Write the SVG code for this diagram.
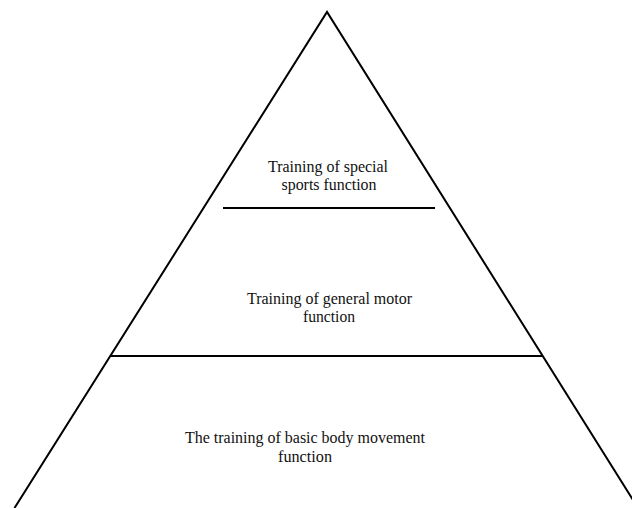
<svg xmlns="http://www.w3.org/2000/svg" width="632" height="508" viewBox="0 0 632 508">
  <style>
    .edge { fill: none; stroke: #000; stroke-width: 2; stroke-linejoin: miter; }
    .lbl { font-family: "Liberation Serif", "Times New Roman", serif; font-size: 16px; fill: #111; text-anchor: middle; }
  </style>
  <rect x="0" y="0" width="632" height="508" fill="#fff"/>
  <g id="connectors">
    <path class="edge" d="M14.5,508 L327,12 L638,508"/>
    <line class="edge" x1="223" y1="208" x2="435" y2="208"/>
    <line class="edge" x1="111" y1="356" x2="542" y2="356"/>
  </g>
  <g id="node-special">
    <text class="lbl" x="328" y="172" textLength="120" lengthAdjust="spacingAndGlyphs">Training of special</text>
    <text class="lbl" x="329" y="190" textLength="95" lengthAdjust="spacingAndGlyphs">sports function</text>
  </g>
  <g id="node-general">
    <text class="lbl" x="329.5" y="304" textLength="165" lengthAdjust="spacingAndGlyphs">Training of general motor</text>
    <text class="lbl" x="329" y="322" textLength="52" lengthAdjust="spacingAndGlyphs">function</text>
  </g>
  <g id="node-basic">
    <text class="lbl" x="305" y="443" textLength="240" lengthAdjust="spacingAndGlyphs">The training of basic body movement</text>
    <text class="lbl" x="305" y="462" textLength="54" lengthAdjust="spacingAndGlyphs">function</text>
  </g>
</svg>
